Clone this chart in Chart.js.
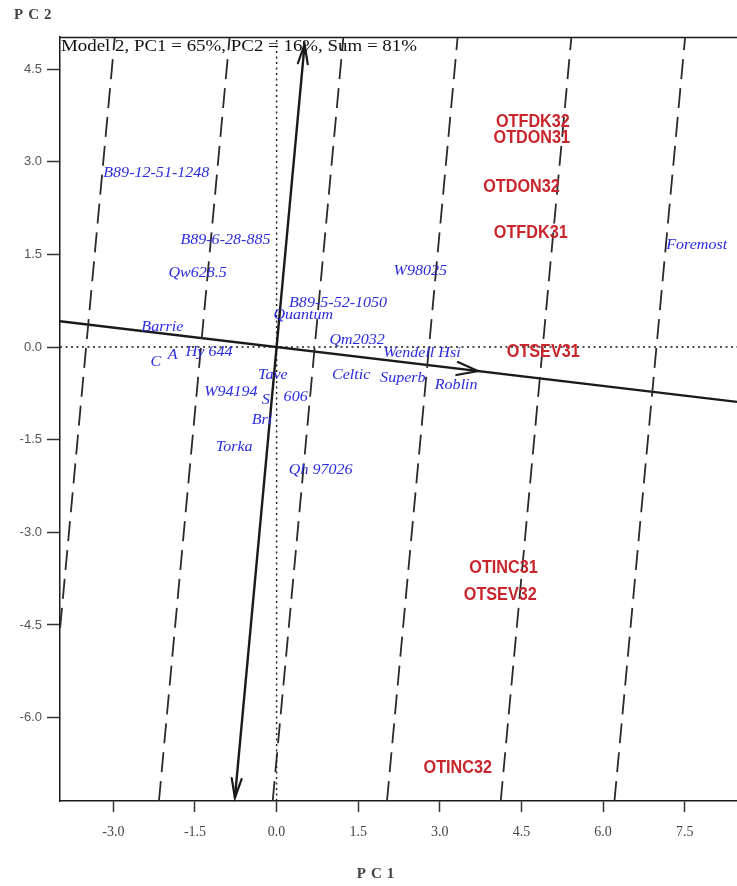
<!DOCTYPE html>
<html>
<head>
<meta charset="utf-8">
<script src="https://cdn.jsdelivr.net/npm/chart.js@4/dist/chart.umd.min.js"></script>
<style>
  html, body { margin: 0; padding: 0; background: #fff; overflow: hidden; }
  #wrap { width: 737px; height: 886px; position: relative; }
</style>
</head>
<body>
<div id="wrap"><canvas id="biplot" width="737" height="886"></canvas></div>
<script>
// Genotype scores (PC1, PC2)
const genotypeNames = ['B89-12-51-1248', 'B89-6-28-885', 'Qw628.5', 'W98025', 'B89-5-52-1050',
  'Quantum', 'Barrie', 'Qm2032', 'C', 'A', 'Hy 644', 'Wendell Hsi', 'Tave', 'Celtic', 'Superb',
  'Roblin', 'W94194', 'S', '606', 'Bri', 'Torka', 'Qh 97026', 'Foremost'];
const genotypePC1 = [-2.21, -0.94, -1.45, 2.64, 1.13, 0.49, -2.10, 1.48, -2.22, -1.91, -1.24, 2.67,
  -0.07, 1.37, 2.32, 3.30, -0.84, -0.20, 0.35, -0.27, -0.78, 0.81, 7.72];
const genotypePC2 = [2.82, 1.74, 1.20, 1.23, 0.71, 0.52, 0.33, 0.11, -0.24, -0.13, -0.08, -0.10,
  -0.45, -0.45, -0.50, -0.61, -0.73, -0.86, -0.81, -1.18, -1.62, -1.99, 1.65];

// Environment scores (PC1, PC2)
const environmentNames = ['OTFDK32', 'OTDON31', 'OTDON32', 'OTFDK31', 'OTSEV31', 'OTINC31', 'OTSEV32', 'OTINC32'];
const environmentPC1 = [4.71, 4.69, 4.50, 4.67, 4.90, 4.17, 4.11, 3.33];
const environmentPC2 = [3.64, 3.38, 2.59, 1.84, -0.08, -3.58, -4.01, -6.81];

// Axis ticks and ranges
const xTicks = [-3.0, -1.5, 0.0, 1.5, 3.0, 4.5, 6.0, 7.5];
const yTicks = [4.5, 3.0, 1.5, 0.0, -1.5, -3.0, -4.5, -6.0];
const xRange = [-3.98, 8.46];
const yRange = [-7.35, 5.02];

// Average-environment axis through the origin, and its perpendicular
const aecSlope = -0.105;
const aecArrowPC1 = 3.7;
const ordinateEnds = [4.9, -7.3];
// PC1 intercepts (at PC2 = 0) of the dashed lines perpendicular to the axis
const contourPC1 = [-3.5, -1.39, 0.70, 2.80, 4.89, 6.98];

const titleText = 'Model 2, PC1 = 65%, PC2 = 16%, Sum = 81%';

const ink = '#1a1a1a';
const blueInk = '#2a2ae0';
const redInk = '#c8262c';

function segment(points, opts) {
  return Object.assign({
    type: 'scatter', data: points, showLine: true, pointRadius: 0,
    borderColor: ink, borderWidth: 1.6, fill: false
  }, opts || {});
}

const perp = -aecSlope; // x shift per unit of PC2 for perpendicular lines
const datasets = [];

// dotted reference lines through the origin
datasets.push(segment([{x: xRange[0], y: 0}, {x: xRange[1], y: 0}], {borderDash: [2, 3.5], borderWidth: 1.4}));
datasets.push(segment([{x: 0, y: yRange[0]}, {x: 0, y: yRange[1]}], {borderDash: [2, 3.5], borderWidth: 1.4}));

// dashed perpendicular lines
contourPC1.forEach(c => {
  datasets.push(segment([{x: c + perp * yRange[0], y: yRange[0]}, {x: c + perp * yRange[1], y: yRange[1]}],
    {borderDash: [20, 9], borderWidth: 1.8, borderColor: '#2a2a2a'}));
});

// average-environment abscissa and ordinate
datasets.push(segment([{x: xRange[0], y: aecSlope * xRange[0]}, {x: xRange[1], y: aecSlope * xRange[1]}], {borderWidth: 2.4}));
datasets.push(segment([{x: perp * ordinateEnds[0], y: ordinateEnds[0]}, {x: perp * ordinateEnds[1], y: ordinateEnds[1]}], {borderWidth: 2.4}));

// label-only point sets
datasets.push({
  type: 'scatter', label: 'genotypes', pointRadius: 0,
  data: genotypeNames.map((n, i) => ({x: genotypePC1[i], y: genotypePC2[i]}))
});
datasets.push({
  type: 'scatter', label: 'environments', pointRadius: 0,
  data: environmentNames.map((n, i) => ({x: environmentPC1[i], y: environmentPC2[i]}))
});

function arrowHead(ctx, tipX, tipY, fromX, fromY, len, spread) {
  const a = Math.atan2(tipY - fromY, tipX - fromX);
  ctx.beginPath();
  ctx.moveTo(tipX - len * Math.cos(a - spread), tipY - len * Math.sin(a - spread));
  ctx.lineTo(tipX, tipY);
  ctx.lineTo(tipX - len * Math.cos(a + spread), tipY - len * Math.sin(a + spread));
  ctx.stroke();
}

// text drawn with a horizontal stretch factor, anchored like fillText
function stretchedText(ctx, text, px, py, sx) {
  ctx.save();
  ctx.translate(px, py);
  ctx.scale(sx, 1);
  ctx.fillText(text, 0, 0);
  ctx.restore();
}

const overlay = {
  id: 'biplotOverlay',
  afterDatasetsDraw(chart) {
    const {ctx, chartArea: area, scales: {x, y}} = chart;
    ctx.save();

    // top frame line
    ctx.strokeStyle = ink;
    ctx.lineWidth = 1.5;
    ctx.beginPath();
    ctx.moveTo(area.left, area.top + 0.5);
    ctx.lineTo(area.right, area.top + 0.5);
    ctx.stroke();

    // arrowheads
    ctx.lineWidth = 2.2;
    ctx.lineCap = 'round';
    const topTip = [x.getPixelForValue(perp * ordinateEnds[0]), y.getPixelForValue(ordinateEnds[0])];
    const botTip = [x.getPixelForValue(perp * ordinateEnds[1]), y.getPixelForValue(ordinateEnds[1])];
    arrowHead(ctx, topTip[0], topTip[1], botTip[0], botTip[1], 20, 0.25);
    arrowHead(ctx, botTip[0], botTip[1], topTip[0], topTip[1], 20, 0.25);
    const rTip = [x.getPixelForValue(aecArrowPC1), y.getPixelForValue(aecSlope * aecArrowPC1)];
    arrowHead(ctx, rTip[0], rTip[1], x.getPixelForValue(0), y.getPixelForValue(0), 22, 0.3);

    // genotype labels
    ctx.textAlign = 'center';
    ctx.textBaseline = 'middle';
    ctx.fillStyle = blueInk;
    ctx.font = 'italic 15px "Liberation Serif", "DejaVu Serif", serif';
    genotypeNames.forEach((n, i) => {
      stretchedText(ctx, n, x.getPixelForValue(genotypePC1[i]), y.getPixelForValue(genotypePC2[i]), 1.07);
    });

    // environment labels
    ctx.fillStyle = redInk;
    ctx.font = 'bold 18px "Liberation Sans", Arial, sans-serif';
    environmentNames.forEach((n, i) => {
      stretchedText(ctx, n, x.getPixelForValue(environmentPC1[i]), y.getPixelForValue(environmentPC2[i]), 0.9);
    });

    // model caption, fitted to the width of the upper-left corner
    ctx.fillStyle = '#111';
    ctx.textAlign = 'left';
    ctx.font = '17px "Liberation Serif", "Times New Roman", serif';
    const captionWidth = 356;
    stretchedText(ctx, titleText, area.left + 1, area.top + 10, captionWidth / ctx.measureText(titleText).width);

    // axis titles
    ctx.fillStyle = '#444';
    ctx.font = 'bold 15px "Liberation Serif", serif';
    if ('letterSpacing' in ctx) ctx.letterSpacing = '5px';
    ctx.textAlign = 'left';
    ctx.fillText('PC2', 14, 15);
    ctx.textAlign = 'center';
    ctx.fillText('PC1', 378, 874);
    ctx.restore();
  }
};

new Chart(document.getElementById('biplot'), {
  type: 'scatter',
  data: {datasets},
  plugins: [overlay],
  options: {
    responsive: false,
    animation: false,
    devicePixelRatio: 1,
    layout: {padding: {top: 37, left: 0, right: 0, bottom: 0}},
    plugins: {legend: {display: false}, tooltip: {enabled: false}},
    events: [],
    scales: {
      x: {
        type: 'linear', min: xRange[0], max: xRange[1],
        afterBuildTicks: s => { s.ticks = xTicks.map(v => ({value: v})); },
        afterFit: s => { s.height = 85; },
        ticks: {
          callback: v => Number(v).toFixed(1), padding: 12, maxRotation: 0, autoSkip: false,
          color: '#444', font: {family: '"Liberation Serif", serif', size: 14}
        },
        grid: {drawOnChartArea: false, drawTicks: true, tickLength: 11, tickColor: '#333', tickWidth: 1.5},
        border: {display: true, color: ink, width: 1.5}
      },
      y: {
        type: 'linear', min: yRange[0], max: yRange[1],
        afterBuildTicks: s => { s.ticks = yTicks.map(v => ({value: v})); },
        afterFit: s => { s.width = 60; },
        ticks: {
          callback: v => Number(v).toFixed(1), padding: 5, autoSkip: false,
          color: '#555', font: {family: '"Liberation Sans", Arial, sans-serif', size: 13}
        },
        grid: {drawOnChartArea: false, drawTicks: true, tickLength: 13, tickColor: '#333', tickWidth: 1.5},
        border: {display: true, color: ink, width: 1.5}
      }
    }
  }
});
</script>
</body>
</html>
